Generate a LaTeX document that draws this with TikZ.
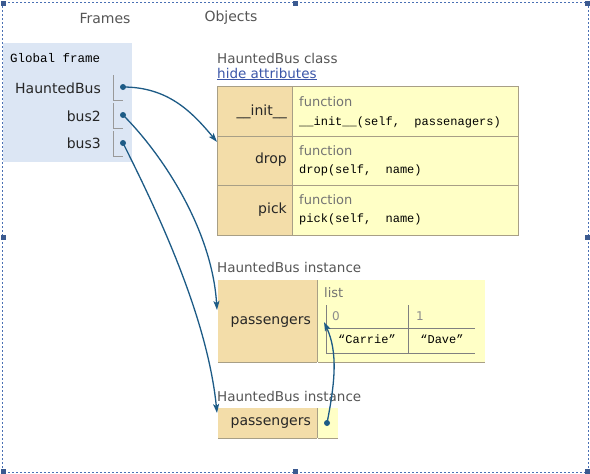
\documentclass[tikz,border=0pt]{standalone}
\usepackage{fontspec}
\setmainfont{DejaVu Sans}
\setmonofont{Liberation Mono}
\usepackage{tikz}
\usetikzlibrary{positioning}
\usetikzlibrary{arrows.meta}

\definecolor{framebg}{HTML}{DCE6F4}
\definecolor{keybg}{HTML}{F3DDA9}
\definecolor{valbg}{HTML}{FFFFC6}
\definecolor{ptrblue}{HTML}{1D5B86}
\definecolor{cellline}{HTML}{A89F86}
\definecolor{linkblue}{HTML}{3A55A8}
\definecolor{labelgray}{HTML}{555555}
\definecolor{selblue}{HTML}{4A70B4}

\tikzset{
    hdr/.style={font=\fontsize{14}{16}\selectfont, text=labelgray, inner sep=0pt},
    objlabel/.style={font=\fontsize{13.5}{15}\selectfont, text=labelgray, anchor=west, inner sep=0pt},
    varname/.style={font=\fontsize{14}{16}\selectfont, text=black!85, anchor=east, inner sep=0pt},
    code/.style={font=\ttfamily\fontsize{12}{14}\selectfont, anchor=west, inner sep=0pt},
    small/.style={font=\fontsize{13}{15}\selectfont, text=black!55, anchor=west, inner sep=0pt},
    keycell/.style={draw=cellline, fill=keybg, anchor=north west, inner sep=0pt, minimum width=75pt},
    valcell/.style={draw=cellline, fill=valbg, anchor=north west, inner sep=0pt, minimum width=226pt},
    ptrdot/.style={circle, fill=ptrblue, inner sep=0pt, minimum size=6pt},
    ptrarrow/.style={draw=ptrblue, line width=1.3pt, -{Stealth[length=9pt, width=6pt, inset=2pt]}},
    ptrbox/.style={draw=black!40, line width=0.8pt},
    listline/.style={draw=black!50, line width=1pt},
}

\begin{document}
\begin{tikzpicture}[x=1pt, y=-1pt]
    \useasboundingbox (0,0) rectangle (590,474);

    % selection frame round the screenshot
    \draw[selblue, line width=0.8pt, dash pattern=on 2pt off 2pt] (2,2) rectangle (588,472);
    \foreach \hx/\hy in {3/3, 295/3, 587/3, 3/237, 587/237, 3/471, 295/471, 587/471}
        \fill[selblue!80!black] (\hx-2.5,\hy-2.5) rectangle (\hx+2.5,\hy+2.5);

    \node[hdr] (frames) at (105,18) {Frames};
    \node[hdr] (objects) at (231,18) {Objects};

    % global frame
    \node[fill=framebg, anchor=north west, minimum width=129pt, minimum height=119pt, inner sep=0pt] (gframe) at (3,43) {};
    \node[code, font=\ttfamily\fontsize{12.5}{14}\selectfont] (gtitle) at (10,58) {Global frame};
    \node[varname] (vHB) at (101,88) {HauntedBus};
    \node[varname] (vbus2) at (101,116) {bus2};
    \node[varname] (vbus3) at (101,143) {bus3};
    \foreach \py in {75, 103, 131}
        \draw[ptrbox] (113,\py) -- (113,\py+25) -- (123,\py+25);
    \node[ptrdot] (pHB) at (123,87) {};
    \node[ptrdot] (pbus2) at (123,115) {};
    \node[ptrdot] (pbus3) at (123,143) {};

    % class object
    \node[objlabel] (clslabel) at (217,58) {HauntedBus class};
    \node[objlabel, text=linkblue] (hide) at (217,74) {\underline{hide attributes}};

    \node[keycell, minimum height=49.5pt] (kinit) at (217,86) {};
    \node[valcell, minimum height=49.5pt] (finit) at (292,86) {};
    \node[keycell, minimum height=49.5pt] (kdrop) at (217,135.5) {};
    \node[valcell, minimum height=49.5pt] (fdrop) at (292,135.5) {};
    \node[keycell, minimum height=49.5pt] (kpick) at (217,185) {};
    \node[valcell, minimum height=49.5pt] (fpick) at (292,185) {};

    \node[varname] (ninit) at (287,112) {\_\_init\_\_};
    \node[varname] (ndrop) at (287,160) {drop};
    \node[varname] (npick) at (287,210) {pick};
    \node[small] (tinit) at (299,102) {function};
    \node[code] (cinit) at (299,122) {\_\_init\_\_(self,\ \ passenagers)};
    \node[small] (tdrop) at (299,151) {function};
    \node[code] (cdrop) at (299,170) {drop(self,\ \ name)};
    \node[small] (tpick) at (299,200) {function};
    \node[code] (cpick) at (299,219) {pick(self,\ \ name)};

    % first instance
    \node[objlabel] (inst1label) at (217,267) {HauntedBus instance};
    \node[fill=keybg, anchor=north west, minimum width=99pt, minimum height=82pt, inner sep=0pt] (kpass1) at (218,280) {};
    \node[fill=valbg, anchor=north west, minimum width=167pt, minimum height=82pt, inner sep=0pt] (vpass1) at (318,280) {};
    \draw[draw=cellline, line width=1pt] (kpass1.south west) -- (kpass1.south east);
    \draw[draw=cellline, line width=1pt] (vpass1.south west) -- (vpass1.south east);
    \draw[draw=cellline, line width=1pt] (kpass1.north east) -- (kpass1.south east);
    \node[varname] (npass1) at (311,322) {passengers};

    \node[small] (lsttype) at (324,293) {list};
    \draw[listline] (326,305) -- (326,353) -- (475,353);
    \draw[listline] (408,305) -- (408,353);
    \draw[listline] (326,328) -- (475,328);
    \node[small, font=\fontsize{12}{14}\selectfont, text=black!45] (idx0) at (332,316) {0};
    \node[small, font=\fontsize{12}{14}\selectfont, text=black!45] (idx1) at (416,316) {1};
    \node[code, anchor=center] (carrie) at (367,339) {\textquotedblleft Carrie\textquotedblright};
    \node[code, anchor=center] (dave) at (442,339) {\textquotedblleft Dave\textquotedblright};
    \coordinate (lst) at (324,322);

    % second instance
    \node[objlabel] (inst2label) at (217,396) {HauntedBus instance};
    \node[fill=keybg, anchor=north west, minimum width=99pt, minimum height=30pt, inner sep=0pt] (kpass2) at (218,408) {};
    \node[fill=valbg, anchor=north west, minimum width=20pt, minimum height=30pt, inner sep=0pt] (vpass2) at (318,408) {};
    \draw[draw=cellline, line width=1pt] (kpass2.south west) -- (kpass2.south east);
    \draw[draw=cellline, line width=1pt] (vpass2.south west) -- (vpass2.south east);
    \draw[draw=cellline, line width=1pt] (kpass2.north east) -- (kpass2.south east);
    \node[varname] (npass2) at (311,423) {passengers};
    \node[ptrdot] (ppass2) at (327,423) {};

    % references
    \draw[ptrarrow] (pHB.center) .. controls +(45,0) and +(-25,-30) .. ([yshift=-6pt]kinit.south west);
    \draw[ptrarrow] (pbus2.center) .. controls +(40,40) and +(-5,-80) .. ([xshift=-1pt, yshift=-30pt]kpass1.north west);
    \draw[ptrarrow] (pbus3.center) .. controls +(30,60) and +(-10,-100) .. ([xshift=-1pt, yshift=-5pt]kpass2.north west);
    \draw[ptrarrow] (ppass2.center) .. controls +(8,-40) and +(14,30) .. (lst);
\end{tikzpicture}
\end{document}
